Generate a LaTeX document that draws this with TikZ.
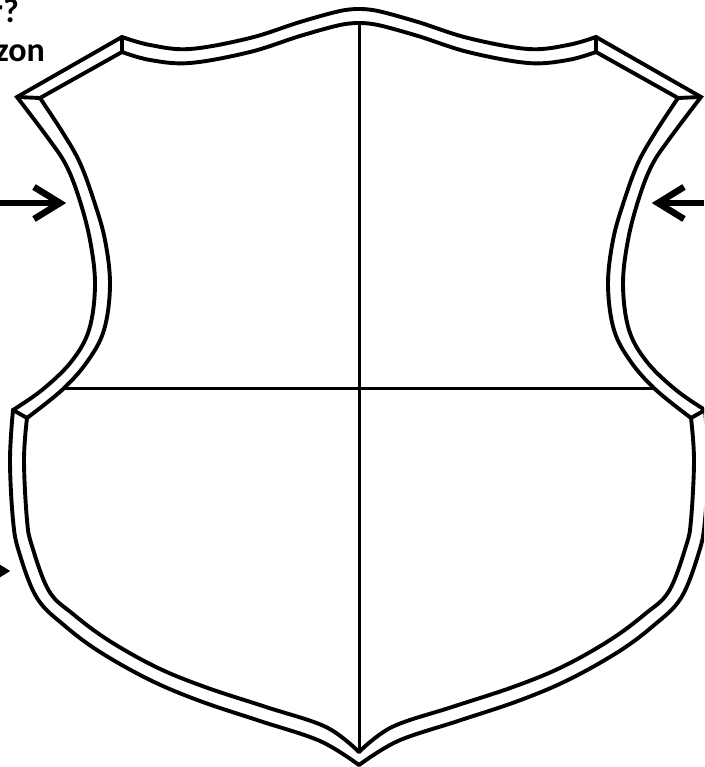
\documentclass[tikz,border=0pt]{standalone}
\usepackage{fontspec}
\newfontfamily\labelfont{Carlito}
\newcommand\shieldouter{plot[smooth,tension=0.6] coordinates {(359,9) (340,11) (300,22) (250,38) (190,49) (150,45) (122,37)} -- (17,97) -- plot[smooth,tension=0.6] coordinates {(17,97) (48,138) (66,165) (79,198) (90,240) (95,285) (89,330) (71,362) (42,390) (13,410)} -- plot[smooth,tension=0.6] coordinates {(13,410) (10,460) (13,520) (19,552) (37,598) (65,626) (100,652) (150,680) (200,701) (260,721) (320,741) (359,765)}}
\newcommand\shieldinner{plot[smooth,tension=0.6] coordinates {(359,23) (340,25) (300,36) (250,52) (190,63) (150,60) (122,52)} -- (40,98) -- plot[smooth,tension=0.6] coordinates {(40,98) (63,133) (80,163) (94,201) (105,240) (110,285) (104,330) (87,362) (62,390) (27,418)} -- plot[smooth,tension=0.6] coordinates {(27,418) (24,460) (27,520) (32,546) (49,591) (73,614) (108,640) (156,667) (205,687) (266,707) (326,727) (359,752)}}
\newcommand\shieldhalf{%
  \draw[rim] \shieldouter;
  \draw[rim] \shieldinner;
  \draw[rim] (122,37) -- (122,52);
  \draw[rim] (17,97) -- (40,98);
  \draw[rim] (13,410) -- (27,418);
}
\begin{document}
\begin{tikzpicture}[x=1pt,y=-1pt,
  rim/.style={line width=3.9pt, line join=miter, line cap=round},
  divider/.style={line width=3pt},
  arrowline/.style={line width=6.5pt, line join=miter},
  label/.style={font=\labelfont\bfseries\fontsize{34}{40}\selectfont, inner sep=0pt}]
\useasboundingbox (0,0) rectangle (704,767);
\clip (0,0) rectangle (704,767);
\fill[white] (0,0) rectangle (704,767);
% shield
\begin{scope}
  \shieldhalf
\end{scope}
\begin{scope}[shift={(718,0)}, xscale=-1]
  \shieldhalf
\end{scope}
% dividers
\coordinate (vt) at (359,23);
\coordinate (vb) at (359,752);
\coordinate (hl) at (65,388);
\coordinate (hr) at (653,388);
\draw[divider] (vt) -- (vb);
\draw[divider] (hl) -- (hr);
% arrows
\coordinate (la0) at (0,203);
\coordinate (la1) at (56,203);
\coordinate (lat) at (60,203);
\draw[arrowline] (la0) -- (la1);
\draw[arrowline] (34,187) -- (lat) -- (34,219);
\coordinate (ra0) at (704,203);
\coordinate (ra1) at (662,203);
\coordinate (rat) at (658,203);
\draw[arrowline] (ra0) -- (ra1);
\draw[arrowline] (684,187) -- (rat) -- (684,219);
\coordinate (ba0) at (-40,571);
\coordinate (ba1) at (0,571);
\coordinate (bat) at (4,571);
\draw[arrowline] (ba0) -- (ba1);
\draw[arrowline] (-22,555) -- (bat) -- (-22,587);
% texts
\node[label, anchor=base east] (q) at (19,23) {r?};
\node[label, anchor=base east] (z) at (45,62) {zon};
\end{tikzpicture}
\end{document}
